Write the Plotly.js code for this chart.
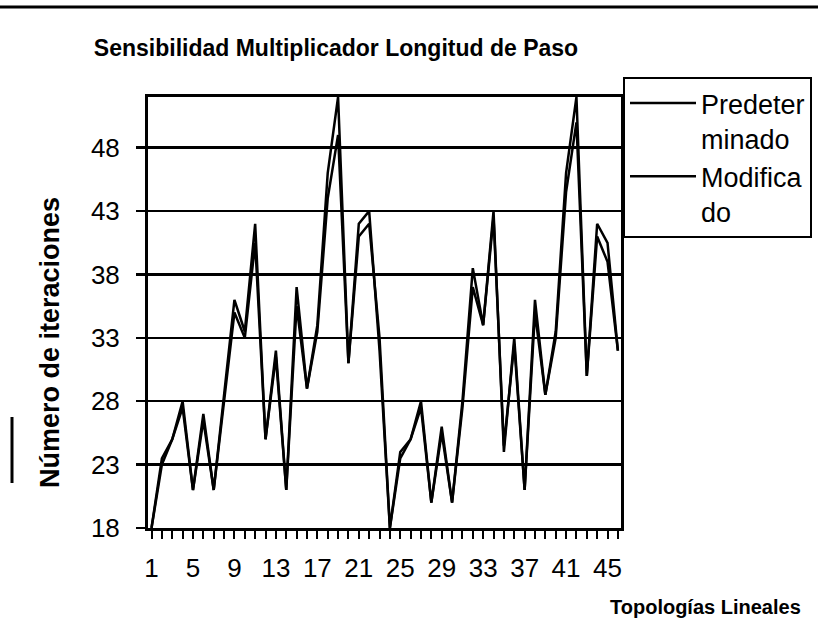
<!DOCTYPE html>
<html>
<head>
<meta charset="utf-8">
<script src="https://cdn.plot.ly/plotly-3.0.1.min.js"></script>
<style>
  html, body { margin: 0; padding: 0; background: #ffffff; }
  #chart { width: 818px; height: 642px; }
</style>
</head>
<body>
<div id="chart"></div>
<script>
// Categories: topologies 1..46
const topologias = [1,2,3,4,5,6,7,8,9,10,11,12,13,14,15,16,17,18,19,20,21,22,23,24,25,26,27,28,29,30,31,32,33,34,35,36,37,38,39,40,41,42,43,44,45,46];

// Series values (number of iterations)
const predeterminado = [18, 23.5, 25, 28, 21, 27, 21, 28.5, 36, 33.5,
                        42, 25, 32, 21, 37, 29, 34, 46, 52, 31,
                        42, 43, 32, 18, 24, 25, 28, 20, 26, 20,
                        28, 38.5, 34, 43, 24, 33, 21, 36, 28.5, 33.5,
                        46, 52, 30, 42, 40.5, 32];
const modificado =     [18, 23, 25, 27.5, 21, 26.5, 21, 28, 35, 33,
                        40.5, 25, 31.5, 21, 35.5, 29, 33.5, 44, 49, 31,
                        41, 42, 33, 18, 23.5, 25, 27.5, 20, 25.5, 20,
                        27.5, 37, 34, 42.5, 24.5, 32.5, 21, 35, 28.5, 33,
                        44.5, 50, 30, 41, 39, 32];

// Tick labels
const xTickVals = [1,5,9,13,17,21,25,29,33,37,41,45];
const yTickVals = [18,23,28,33,38,43,48];

const seriesNames = ["Predeter<br>minado", "Modifica<br>do"];
const chartTitle = "Sensibilidad Multiplicador Longitud de Paso";
const xTitle = "Topologías Lineales";
const yTitle = "Número de iteraciones";

const FONT = "Liberation Sans, Arial, sans-serif";

const traces = [
  { x: topologias, y: predeterminado, name: seriesNames[0], type: "scatter", mode: "lines",
    line: { color: "#000000", width: 2.5 } },
  { x: topologias, y: modificado, name: seriesNames[1], type: "scatter", mode: "lines",
    line: { color: "#000000", width: 2.5 } }
];

const layout = {
  width: 818, height: 642,
  paper_bgcolor: "#ffffff", plot_bgcolor: "#ffffff",
  margin: { l: 148, r: 197, t: 97, b: 114, pad: 0, autoexpand: false },
  font: { family: FONT, color: "#000000", size: 26 },
  title: { text: "<b>" + chartTitle + "</b>", font: { family: FONT, size: 23, color: "#000" },
           x: 336 / 818, xanchor: "center", y: 1 - 48 / 642, yanchor: "middle" },
  xaxis: {
    range: [0.66, 46.3], tickmode: "array", tickvals: xTickVals,
    ticks: "outside", ticklen: 8, tickwidth: 2, tickcolor: "#000",
    minor: { tickmode: "linear", tick0: 1, dtick: 1, ticks: "outside", ticklen: 8, tickwidth: 2, tickcolor: "#000", showgrid: false },
    showgrid: false, zeroline: false,
    showline: true, linecolor: "#000", linewidth: 3, mirror: true,
    ticklabelstandoff: 7,
    tickfont: { family: FONT, size: 26, color: "#000" }
  },
  yaxis: {
    range: [18, 52], tickmode: "array", tickvals: yTickVals,
    ticks: "outside", ticklen: 9, tickwidth: 2.5, tickcolor: "#000",
    showgrid: true, gridcolor: "#000", gridwidth: 2.5, zeroline: false,
    showline: true, linecolor: "#000", linewidth: 3, mirror: true,
    ticklabelstandoff: 11,
    tickfont: { family: FONT, size: 26, color: "#000" }
  },
  showlegend: true,
  legend: {
    x: (623 - 148) / 473, xanchor: "left",
    y: (528 - 77) / 431, yanchor: "top",
    bgcolor: "#ffffff", bordercolor: "#000", borderwidth: 2,
    font: { family: FONT, size: 27, color: "#000" },
    itemwidth: 66, valign: "top", tracegroupgap: 6
  },
  annotations: [
    { text: "<b>" + xTitle + "</b>", xref: "paper", yref: "paper",
      x: (803 - 148) / 473, xanchor: "right", y: (528 - 607) / 431, yanchor: "middle",
      showarrow: false, font: { family: FONT, size: 20, color: "#000" } },
    { text: "<b>" + yTitle + "</b>", xref: "paper", yref: "paper", textangle: -90,
      x: (50 - 148) / 473, xanchor: "center", y: (528 - 343) / 431, yanchor: "middle",
      showarrow: false, font: { family: FONT, size: 27, color: "#000" } }
  ],
  shapes: [
    { type: "line", xref: "paper", yref: "paper",
      x0: -148 / 473, x1: (818 - 148) / 473, y0: (528 - 7) / 431, y1: (528 - 7) / 431,
      line: { color: "#000", width: 3 } },
    { type: "line", xref: "paper", yref: "paper",
      x0: (12 - 148) / 473, x1: (12 - 148) / 473, y0: (528 - 417) / 431, y1: (528 - 483) / 431,
      line: { color: "#000", width: 3 } }
  ]
};

Plotly.newPlot("chart", traces, layout, { displayModeBar: false, staticPlot: true });
</script>
</body>
</html>
